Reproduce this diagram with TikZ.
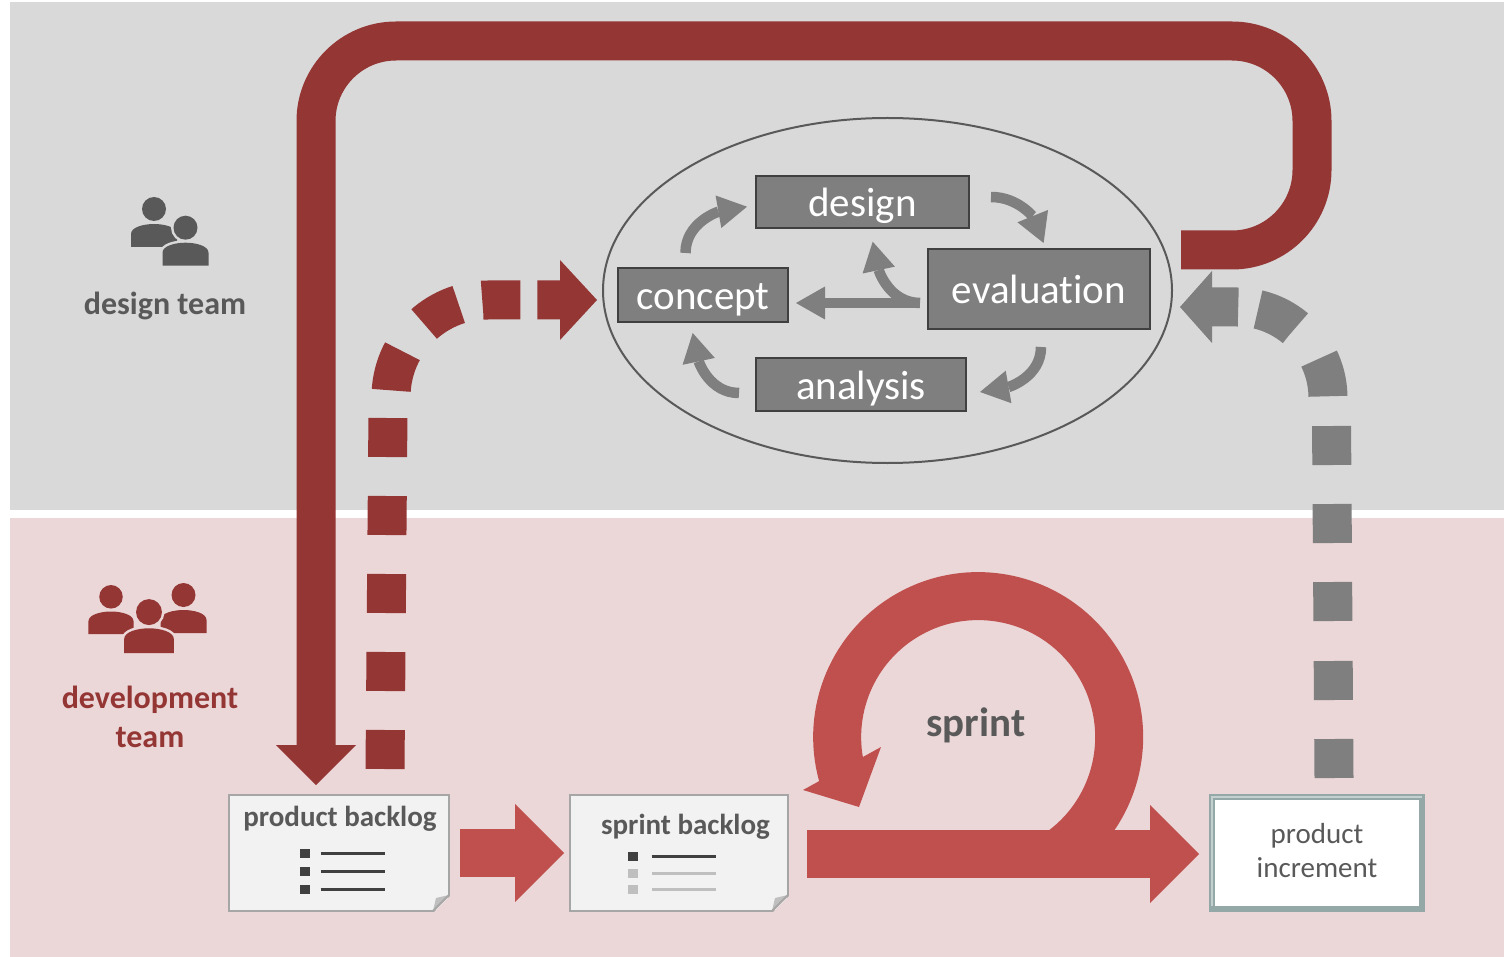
\documentclass[tikz,border=0pt]{standalone}
\usepackage{fontspec}
\setmainfont{Carlito}[Ligatures=NoCommon]
\usetikzlibrary{arrows.meta}
\usetikzlibrary{shapes.geometric}
\definecolor{graybg}{HTML}{D9D9D9}
\definecolor{rosebg}{HTML}{EBD7D8}
\definecolor{darkred}{HTML}{943634}
\definecolor{lightred}{HTML}{C0504D}
\definecolor{boxgray}{HTML}{7F7F7F}
\definecolor{textgray}{HTML}{595959}
\definecolor{sheet}{HTML}{F2F2F2}
\definecolor{framegray}{HTML}{94A8A8}
\tikzset{
	phasebox/.style={draw=black!75, line width=1.5pt, fill=boxgray, text=white, inner sep=0pt, text height=34pt, text depth=4pt, font=\fontsize{41}{41}\selectfont},
	loopcirc/.style={ellipse, draw=textgray, line width=2pt, inner sep=0pt, minimum width=569pt, minimum height=345pt},
	docbox/.style={draw=black!35, line width=2pt, fill=sheet, inner sep=0pt},
	doctitle/.style={text=textgray, font=\bfseries\fontsize{29}{29}\selectfont},
	grouplabel/.style={font=\bfseries\fontsize{32}{39}\selectfont, align=center},
	smallarrow/.style={draw=boxgray, line width=10.5pt, -{Triangle[length=29pt,width=33pt,line width=0pt]}},
	returnarrow/.style={draw=darkred, line width=39pt, rounded corners=80pt, -{Triangle[length=40pt,width=80pt,line width=0pt]}},
	dashdark/.style={draw=darkred, line width=39pt, dash pattern=on 39pt off 39pt on 39pt off 39pt on 39pt off 39pt on 39pt off 39pt on 39pt off 28pt on 41pt off 35pt on 40pt off 24pt on 38pt off 17pt on 100pt, -{Triangle[length=37pt,width=80pt,line width=0pt]}},
	dashgray/.style={draw=boxgray, line width=39pt, dash pattern=on 39pt off 39pt on 39pt off 40pt on 39pt off 39pt on 39pt off 39pt on 39pt off 30pt on 39pt off 39pt on 42pt off 20pt on 100pt, -{Triangle[length=32pt,width=72pt,line width=0pt]}},
	sprintband/.style={draw=lightred, line width=48pt},
	sprintarrow/.style={sprintband, -{Triangle[length=49pt,width=98pt,line width=0pt]}},
}
\newcommand{\person}[2]{\path[fill=#1, preaction={draw=#2, line width=5pt}] (-23,23) -- (-23,10) .. controls (-23,3) and (-10,0) .. (0,0) .. controls (10,0) and (23,3) .. (23,10) -- (23,23) -- cycle;
					\path[fill=#1, preaction={draw=#2, line width=5pt}] (0,-15) circle [radius=12];}
\newcommand{\listlines}[2]{\fill[#1] (0,-4) rectangle (10,5);
					\draw[#1, line width=3pt] (#2,0) -- ++(64,0);}
\newcommand{\dogear}{\fill[rosebg] (2,2) -- (2,-16) -- (-16,2) -- cycle;
					\fill[black!25] (0,-16) -- (-13,-13) -- (-16,0) -- cycle;
					\draw[black!35, line width=2pt] (0,-16) -- (-16,0);}

\begin{document}
\begin{tikzpicture}[x=1pt, y=1pt, yscale=-1]
	\useasboundingbox (0,0) rectangle (1504,957);

	% team bands
	\fill[graybg] (10,2) rectangle (1504,510);
	\fill[rosebg] (10,518) rectangle (1504,957);

	% team icons
	\begin{scope}[shift={(154,224)}]
		\person{textgray}{none}
	\end{scope}
	\begin{scope}[shift={(185.5,242.7)}]
		\person{textgray}{graybg}
	\end{scope}
	\begin{scope}[shift={(111,611.5)}, scale=0.98]
		\person{darkred}{none}
	\end{scope}
	\begin{scope}[shift={(183.5,610)}, scale=1.0]
		\person{darkred}{none}
	\end{scope}
	\begin{scope}[shift={(149,628.3)}, scale=1.08]
		\person{darkred}{rosebg}
	\end{scope}
	\node[grouplabel, text=textgray] (designteam) at (165,306) {design team};
	\node[grouplabel, text=darkred] (devteam) at (150,717) {development\\team};

	% design loop
	\node[loopcirc] (loop) at (887.5,290.5) {};
	\node[phasebox, minimum width=213pt, minimum height=52pt] (design) at (862.5,202) {design};
	\node[phasebox, minimum width=170pt, minimum height=54pt] (concept) at (703,295) {concept};
	\node[phasebox, minimum width=222pt, minimum height=80pt] (evaluation) at (1039,289) {evaluation};
	\node[phasebox, minimum width=210pt, minimum height=53pt] (analysis) at (861,384.5) {analysis};

	\coordinate (conceptup) at (685.5,253);
	\coordinate (designin) at (747,206.7);
	\coordinate (designout) at (991,197);
	\coordinate (evalin) at (1043.6,243);
	\coordinate (evalout) at (1041,347);
	\coordinate (analysisin) at (980,392);
	\coordinate (analysisout) at (739,393);
	\coordinate (conceptin) at (692.7,333);
	\coordinate (evalleft) at (920,303);
	\coordinate (conceptright) at (796,303);
	\coordinate (designdown) at (872.7,241.7);

	\draw[smallarrow] (conceptup) to[out=-90, in=170] (designin);
	\draw[smallarrow] (designout) to[out=0, in=-112] (evalin);
	\draw[smallarrow] (evalout) to[out=90, in=-10] (analysisin);
	\draw[smallarrow] (analysisout) to[out=180, in=78] (conceptin);
	\draw[smallarrow] (evalleft) -- (conceptright);
	\draw[smallarrow] (evalleft) to[out=180, in=78] (designdown);

	% backlog sheets
	\node[docbox, minimum width=220pt, minimum height=116pt] (product) at (339,853) {};
	\node[docbox, minimum width=218pt, minimum height=116pt] (sprintlog) at (679,853) {};
	\node[doctitle] (producttitle) at (340,819) {product backlog};
	\node[doctitle] (sprinttitle) at (685.5,826.5) {sprint backlog};
	\begin{scope}[shift={(449,911)}]
		\dogear
	\end{scope}
	\begin{scope}[shift={(788,911)}]
		\dogear
	\end{scope}
	\begin{scope}[shift={(299.5,853)}]
		\listlines{black!75}{21}
	\end{scope}
	\begin{scope}[shift={(299.5,871)}]
		\listlines{black!75}{21}
	\end{scope}
	\begin{scope}[shift={(299.5,889)}]
		\listlines{black!75}{21}
	\end{scope}
	\begin{scope}[shift={(627.5,856)}]
		\listlines{black!75}{24}
	\end{scope}
	\begin{scope}[shift={(627.5,873)}]
		\listlines{black!25}{24}
	\end{scope}
	\begin{scope}[shift={(627.5,889)}]
		\listlines{black!25}{24}
	\end{scope}

	% product increment
	\node[draw=framegray, line width=5.5pt, fill=white, inner sep=0pt, minimum width=210pt, minimum height=112pt] (increment) at (1317,853) {};
	\draw[white!45!framegray, line width=2pt] (1212,906) -- (1212,797) -- (1422,797);
	\node[align=center, text=textgray, font=\fontsize{29}{34}\selectfont] (incrementlabel) at (1317,851) {product\\increment};

	% sprint
	\coordinate (sprintstart) at (807,854);
	\coordinate (sprintend) at (1199,854);
	\draw[sprintarrow] (sprintstart) -- (sprintend);
	\draw[sprintband] (1057,854) arc [start angle=56, end angle=-200, radius=141];
	\fill[lightred] (803,790) -- (881,747) -- (859,807) -- cycle;
	\draw[sprintarrow] ([xshift=10pt]product.east) -- ([xshift=-5pt]sprintlog.west);
	\node[text=textgray, font=\bfseries\fontsize{41}{41}\selectfont] (sprintlabel) at (976,725) {sprint};

	% feedback paths
	\coordinate (reviewstart) at (1181,250);
	\coordinate (reviewcorner) at (1312,250);
	\coordinate (reviewtop) at (1312,41);
	\coordinate (reviewleft) at (316,41);
	\coordinate (reviewend) at (316,785);
	\draw[returnarrow] (reviewstart) -- (reviewcorner) -- (reviewtop) -- (reviewleft) -- (reviewend);

	\coordinate (tasksout) at (385,769);
	\coordinate (tasksbend) at (391,397);
	\coordinate (tasksin) at (597,300);
	\draw[dashdark] (tasksout) -- (388,410) -- (tasksbend) arc [start angle=180, end angle=270, radius=97] -- (tasksin);

	\coordinate (resultout) at (1334,778);
	\coordinate (resultbend) at (1328,398);
	\coordinate (resultin) at (1180,307);
	\draw[dashgray] (resultout) -- (1331.5,420) -- (resultbend) arc [start angle=0, end angle=-90, radius=91] -- (resultin);
\end{tikzpicture}
\end{document}
